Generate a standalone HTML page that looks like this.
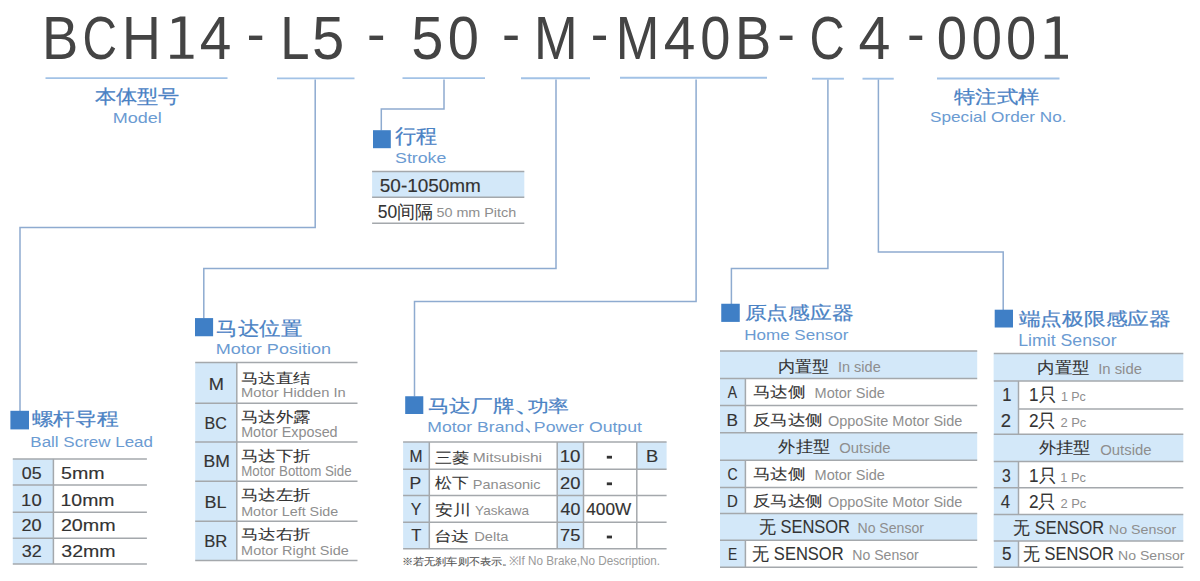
<!DOCTYPE html>
<html><head><meta charset="utf-8"><title>BCH14</title>
<style>html,body{margin:0;padding:0;background:#fff;width:1200px;height:581px;overflow:hidden}</style>
</head><body>
<svg width="1200" height="581" viewBox="0 0 1200 581" style="display:block;font-family:'Liberation Sans',sans-serif">
<rect width="1200" height="581" fill="#ffffff"/>
<rect x="249.00" y="35.60" width="13.25" height="4.40" fill="#444444"/>
<rect x="369.40" y="35.60" width="13.70" height="4.40" fill="#444444"/>
<rect x="504.40" y="35.60" width="13.35" height="4.40" fill="#444444"/>
<rect x="593.10" y="35.60" width="12.90" height="4.40" fill="#444444"/>
<rect x="779.75" y="35.60" width="12.75" height="4.40" fill="#444444"/>
<rect x="909.40" y="35.60" width="12.85" height="4.40" fill="#444444"/>
<path d="M180.20,16.5 H185.40 V54.8 H193.50 V58.8 H170.20 V54.8 H180.20 V21.6 L172.10,23.4 V19.6 Z" fill="#444444"/>
<path d="M1054.70,16.5 H1059.90 V54.8 H1068.00 V58.8 H1044.70 V54.8 H1054.70 V21.6 L1046.60,23.4 V19.6 Z" fill="#444444"/>
<line x1="45.5" y1="78.1" x2="227.5" y2="78.1" stroke="#a2c2e6" stroke-width="1.9"/>
<line x1="277" y1="78.4" x2="354.5" y2="78.4" stroke="#a2c2e6" stroke-width="1.9"/>
<line x1="402.5" y1="78.1" x2="485" y2="78.1" stroke="#a2c2e6" stroke-width="1.9"/>
<line x1="521" y1="78.3" x2="590" y2="78.3" stroke="#a2c2e6" stroke-width="1.9"/>
<line x1="620" y1="77.7" x2="767" y2="77.7" stroke="#a2c2e6" stroke-width="1.9"/>
<line x1="812" y1="78.7" x2="843.9" y2="78.7" stroke="#a2c2e6" stroke-width="1.9"/>
<line x1="862.5" y1="78.7" x2="893.75" y2="78.7" stroke="#a2c2e6" stroke-width="1.9"/>
<line x1="937" y1="78.5" x2="1059.5" y2="78.5" stroke="#a2c2e6" stroke-width="1.9"/>
<path d="M315.2,79.6 V227.4 H20 V411" fill="none" stroke="#8eabd0" stroke-width="1.5"/>
<path d="M444,79.6 V109.1 H381.3 V130.5" fill="none" stroke="#8eabd0" stroke-width="1.5"/>
<path d="M556,79.6 V268.5 H203.8 V318.5" fill="none" stroke="#8eabd0" stroke-width="1.5"/>
<path d="M696.1,79.6 V301.6 H414.5 V396.5" fill="none" stroke="#8eabd0" stroke-width="1.5"/>
<path d="M827.9,79.6 V268.4 H731.4 V304" fill="none" stroke="#8eabd0" stroke-width="1.5"/>
<path d="M878.4,79.6 V252.1 H1003.2 V310" fill="none" stroke="#8eabd0" stroke-width="1.5"/>
<line x1="526.4" y1="429.1" x2="529.3" y2="431.9" stroke="#6b9bd2" stroke-width="1.5" stroke-linecap="round"/>
<rect x="373.00" y="130.20" width="17.80" height="18.00" fill="#3f7fc6"/>
<rect x="10.40" y="410.80" width="18.60" height="18.60" fill="#3f7fc6"/>
<rect x="195.00" y="318.10" width="18.10" height="18.15" fill="#3f7fc6"/>
<rect x="405.20" y="396.25" width="18.10" height="17.75" fill="#3f7fc6"/>
<rect x="721.25" y="303.75" width="18.50" height="18.15" fill="#3f7fc6"/>
<rect x="994.70" y="309.70" width="18.30" height="17.80" fill="#3f7fc6"/>
<rect x="372.10" y="171.40" width="152.20" height="25.80" fill="#d3e8f9"/>
<line x1="372.1" y1="171.4" x2="524.3" y2="171.4" stroke="#a4a8ac" stroke-width="1.5"/>
<line x1="372.1" y1="197.2" x2="524.3" y2="197.2" stroke="#a4a8ac" stroke-width="1.5"/>
<line x1="372.1" y1="223.3" x2="524.3" y2="223.3" stroke="#a4a8ac" stroke-width="1.5"/>
<rect x="12.80" y="458.90" width="40.60" height="105.10" fill="#d3e8f9"/>
<line x1="12.8" y1="458.9" x2="146.9" y2="458.9" stroke="#a4a8ac" stroke-width="1.5"/>
<line x1="12.8" y1="485.1" x2="146.9" y2="485.1" stroke="#a4a8ac" stroke-width="1.5"/>
<line x1="12.8" y1="512.2" x2="146.9" y2="512.2" stroke="#a4a8ac" stroke-width="1.5"/>
<line x1="12.8" y1="538.2" x2="146.9" y2="538.2" stroke="#a4a8ac" stroke-width="1.5"/>
<line x1="12.8" y1="564" x2="146.9" y2="564" stroke="#a4a8ac" stroke-width="1.5"/>
<line x1="53.4" y1="458.9" x2="53.4" y2="564" stroke="#a4a8ac" stroke-width="1.5"/>
<rect x="195.20" y="362.60" width="41.40" height="197.90" fill="#d3e8f9"/>
<line x1="195.2" y1="362.6" x2="357.5" y2="362.6" stroke="#a4a8ac" stroke-width="1.5"/>
<line x1="195.2" y1="403.2" x2="357.5" y2="403.2" stroke="#a4a8ac" stroke-width="1.5"/>
<line x1="195.2" y1="442.1" x2="357.5" y2="442.1" stroke="#a4a8ac" stroke-width="1.5"/>
<line x1="195.2" y1="481.2" x2="357.5" y2="481.2" stroke="#a4a8ac" stroke-width="1.5"/>
<line x1="195.2" y1="521.3" x2="357.5" y2="521.3" stroke="#a4a8ac" stroke-width="1.5"/>
<line x1="195.2" y1="560.6" x2="357.5" y2="560.6" stroke="#a4a8ac" stroke-width="1.5"/>
<line x1="236.8" y1="362.6" x2="236.8" y2="560.6" stroke="#a4a8ac" stroke-width="1.5"/>
<rect x="403.10" y="442.00" width="26.20" height="106.70" fill="#d3e8f9"/>
<rect x="557.20" y="442.00" width="26.30" height="106.70" fill="#d3e8f9"/>
<rect x="636.80" y="442.00" width="29.80" height="27.30" fill="#d3e8f9"/>
<line x1="403.1" y1="442" x2="666.6" y2="442" stroke="#a4a8ac" stroke-width="1.5"/>
<line x1="403.1" y1="469.3" x2="666.6" y2="469.3" stroke="#a4a8ac" stroke-width="1.5"/>
<line x1="403.1" y1="495.6" x2="666.6" y2="495.6" stroke="#a4a8ac" stroke-width="1.5"/>
<line x1="403.1" y1="522.2" x2="666.6" y2="522.2" stroke="#a4a8ac" stroke-width="1.5"/>
<line x1="403.1" y1="548.7" x2="666.6" y2="548.7" stroke="#a4a8ac" stroke-width="1.5"/>
<line x1="429.3" y1="442" x2="429.3" y2="548.7" stroke="#a4a8ac" stroke-width="1.5"/>
<line x1="557.2" y1="442" x2="557.2" y2="548.7" stroke="#a4a8ac" stroke-width="1.5"/>
<line x1="583.5" y1="442" x2="583.5" y2="548.7" stroke="#a4a8ac" stroke-width="1.5"/>
<line x1="636.8" y1="442" x2="636.8" y2="548.7" stroke="#a4a8ac" stroke-width="1.5"/>
<rect x="606.80" y="455.80" width="5.20" height="2.80" fill="#333333"/>
<rect x="606.80" y="482.40" width="5.20" height="2.80" fill="#333333"/>
<rect x="606.80" y="535.60" width="5.20" height="2.80" fill="#333333"/>
<rect x="720.00" y="350.90" width="25.40" height="216.30" fill="#d3e8f9"/>
<rect x="720.00" y="350.90" width="257.20" height="27.60" fill="#d3e8f9"/>
<line x1="745.4" y1="378.5" x2="745.4" y2="405.4" stroke="#a4a8ac" stroke-width="1.5"/>
<line x1="745.4" y1="405.4" x2="745.4" y2="432.8" stroke="#a4a8ac" stroke-width="1.5"/>
<rect x="720.00" y="432.80" width="257.20" height="27.50" fill="#d3e8f9"/>
<line x1="745.4" y1="460.3" x2="745.4" y2="487.5" stroke="#a4a8ac" stroke-width="1.5"/>
<line x1="745.4" y1="487.5" x2="745.4" y2="513.4" stroke="#a4a8ac" stroke-width="1.5"/>
<rect x="720.00" y="513.40" width="257.20" height="26.90" fill="#d3e8f9"/>
<line x1="745.4" y1="540.3" x2="745.4" y2="567.2" stroke="#a4a8ac" stroke-width="1.5"/>
<line x1="720" y1="350.9" x2="977.2" y2="350.9" stroke="#a4a8ac" stroke-width="1.5"/>
<line x1="720" y1="378.5" x2="977.2" y2="378.5" stroke="#a4a8ac" stroke-width="1.5"/>
<line x1="720" y1="405.4" x2="977.2" y2="405.4" stroke="#a4a8ac" stroke-width="1.5"/>
<line x1="720" y1="432.8" x2="977.2" y2="432.8" stroke="#a4a8ac" stroke-width="1.5"/>
<line x1="720" y1="460.3" x2="977.2" y2="460.3" stroke="#a4a8ac" stroke-width="1.5"/>
<line x1="720" y1="487.5" x2="977.2" y2="487.5" stroke="#a4a8ac" stroke-width="1.5"/>
<line x1="720" y1="513.4" x2="977.2" y2="513.4" stroke="#a4a8ac" stroke-width="1.5"/>
<line x1="720" y1="540.3" x2="977.2" y2="540.3" stroke="#a4a8ac" stroke-width="1.5"/>
<line x1="720" y1="567.2" x2="977.2" y2="567.2" stroke="#a4a8ac" stroke-width="1.5"/>
<rect x="993.80" y="353.50" width="24.70" height="213.80" fill="#d3e8f9"/>
<rect x="993.80" y="353.50" width="189.50" height="27.40" fill="#d3e8f9"/>
<line x1="1018.5" y1="380.9" x2="1018.5" y2="408.9" stroke="#a4a8ac" stroke-width="1.5"/>
<line x1="1018.5" y1="408.9" x2="1018.5" y2="434.2" stroke="#a4a8ac" stroke-width="1.5"/>
<rect x="993.80" y="434.20" width="189.50" height="27.20" fill="#d3e8f9"/>
<line x1="1018.5" y1="461.4" x2="1018.5" y2="487.8" stroke="#a4a8ac" stroke-width="1.5"/>
<line x1="1018.5" y1="487.8" x2="1018.5" y2="514.6" stroke="#a4a8ac" stroke-width="1.5"/>
<rect x="993.80" y="514.60" width="189.50" height="26.40" fill="#d3e8f9"/>
<line x1="1018.5" y1="541" x2="1018.5" y2="567.3" stroke="#a4a8ac" stroke-width="1.5"/>
<line x1="993.8" y1="353.5" x2="1183.3" y2="353.5" stroke="#a4a8ac" stroke-width="1.5"/>
<line x1="993.8" y1="380.9" x2="1183.3" y2="380.9" stroke="#a4a8ac" stroke-width="1.5"/>
<line x1="1018.5" y1="408.9" x2="1183.3" y2="408.9" stroke="#a4a8ac" stroke-width="1.5"/>
<line x1="993.8" y1="434.2" x2="1183.3" y2="434.2" stroke="#a4a8ac" stroke-width="1.5"/>
<line x1="993.8" y1="461.4" x2="1183.3" y2="461.4" stroke="#a4a8ac" stroke-width="1.5"/>
<line x1="993.8" y1="487.8" x2="1183.3" y2="487.8" stroke="#a4a8ac" stroke-width="1.5"/>
<line x1="993.8" y1="514.6" x2="1183.3" y2="514.6" stroke="#a4a8ac" stroke-width="1.5"/>
<line x1="993.8" y1="541" x2="1183.3" y2="541" stroke="#a4a8ac" stroke-width="1.5"/>
<line x1="993.8" y1="567.3" x2="1183.3" y2="567.3" stroke="#a4a8ac" stroke-width="1.5"/>
<text x="41.90" y="58.70" font-size="60.72" fill="#444444" textLength="36.25" lengthAdjust="spacingAndGlyphs">B</text>
<text x="82.61" y="58.70" font-size="60.72" fill="#444444" textLength="34.53" lengthAdjust="spacingAndGlyphs">C</text>
<text x="121.95" y="58.70" font-size="60.72" fill="#444444" textLength="38.83" lengthAdjust="spacingAndGlyphs">H</text>
<text x="199.86" y="58.70" font-size="60.72" fill="#444444" textLength="31.62" lengthAdjust="spacingAndGlyphs">4</text>
<text x="280.19" y="58.70" font-size="60.72" fill="#444444" textLength="29.29" lengthAdjust="spacingAndGlyphs">L</text>
<text x="312.08" y="58.70" font-size="60.72" fill="#444444" textLength="32.27" lengthAdjust="spacingAndGlyphs">5</text>
<text x="411.19" y="58.70" font-size="60.72" fill="#444444" textLength="32.15" lengthAdjust="spacingAndGlyphs">5</text>
<text x="447.72" y="58.70" font-size="60.72" fill="#444444" textLength="31.21" lengthAdjust="spacingAndGlyphs">0</text>
<text x="533.91" y="58.70" font-size="60.72" fill="#444444" textLength="43.67" lengthAdjust="spacingAndGlyphs">M</text>
<text x="615.81" y="58.70" font-size="60.72" fill="#444444" textLength="43.61" lengthAdjust="spacingAndGlyphs">M</text>
<text x="663.86" y="58.70" font-size="60.72" fill="#444444" textLength="31.62" lengthAdjust="spacingAndGlyphs">4</text>
<text x="700.27" y="58.70" font-size="60.72" fill="#444444" textLength="30.19" lengthAdjust="spacingAndGlyphs">0</text>
<text x="735.05" y="58.70" font-size="60.72" fill="#444444" textLength="36.25" lengthAdjust="spacingAndGlyphs">B</text>
<text x="809.46" y="58.70" font-size="60.72" fill="#444444" textLength="35.21" lengthAdjust="spacingAndGlyphs">C</text>
<text x="858.60" y="58.70" font-size="60.72" fill="#444444" textLength="31.90" lengthAdjust="spacingAndGlyphs">4</text>
<text x="936.86" y="58.70" font-size="60.72" fill="#444444" textLength="30.36" lengthAdjust="spacingAndGlyphs">0</text>
<text x="971.45" y="58.70" font-size="60.72" fill="#444444" textLength="30.53" lengthAdjust="spacingAndGlyphs">0</text>
<text x="1006.12" y="58.70" font-size="60.72" fill="#444444" textLength="30.25" lengthAdjust="spacingAndGlyphs">0</text>
<text x="94.59" y="103.28" font-size="19.07" fill="#4a82c4" stroke="#4a82c4" stroke-width="0.22" textLength="85.01" lengthAdjust="spacingAndGlyphs">本体型号</text>
<text x="112.76" y="122.75" font-size="15.29" fill="#6b9bd2" textLength="49.06" lengthAdjust="spacingAndGlyphs">Model</text>
<text x="954.00" y="103.35" font-size="17.88" fill="#4a82c4" stroke="#4a82c4" stroke-width="0.22" textLength="85.34" lengthAdjust="spacingAndGlyphs">特注式样</text>
<text x="930.01" y="122.00" font-size="14.78" fill="#6b9bd2" textLength="136.50" lengthAdjust="spacingAndGlyphs">Special Order No.</text>
<text x="395.00" y="142.85" font-size="20.00" fill="#4a82c4" stroke="#4a82c4" stroke-width="0.22" textLength="42.03" lengthAdjust="spacingAndGlyphs">行程</text>
<text x="395.09" y="162.60" font-size="15.22" fill="#6b9bd2" textLength="51.25" lengthAdjust="spacingAndGlyphs">Stroke</text>
<text x="379.84" y="192.00" font-size="17.83" fill="#333333" stroke="#333333" stroke-width="0.15" textLength="101.05" lengthAdjust="spacingAndGlyphs">50-1050mm</text>
<text x="377.79" y="217.50" font-size="17.50" fill="#333333" stroke="#333333" stroke-width="0.08" textLength="55.40" lengthAdjust="spacingAndGlyphs">50间隔</text>
<text x="436.43" y="217.00" font-size="13.62" fill="#8e8e8e" textLength="79.78" lengthAdjust="spacingAndGlyphs">50 mm Pitch</text>
<text x="31.78" y="425.39" font-size="18.37" fill="#4a82c4" stroke="#4a82c4" stroke-width="0.22" textLength="86.87" lengthAdjust="spacingAndGlyphs">螺杆导程</text>
<text x="30.34" y="447.00" font-size="15.07" fill="#6b9bd2" textLength="122.61" lengthAdjust="spacingAndGlyphs">Ball Screw Lead</text>
<text x="21.87" y="478.90" font-size="17.39" fill="#333333" stroke="#333333" stroke-width="0.15" textLength="19.78" lengthAdjust="spacingAndGlyphs">05</text>
<text x="61.11" y="478.90" font-size="17.39" fill="#333333" stroke="#333333" stroke-width="0.15" textLength="43.62" lengthAdjust="spacingAndGlyphs">5mm</text>
<text x="21.11" y="506.10" font-size="17.39" fill="#333333" stroke="#333333" stroke-width="0.15" textLength="20.56" lengthAdjust="spacingAndGlyphs">10</text>
<text x="60.54" y="506.10" font-size="17.39" fill="#333333" stroke="#333333" stroke-width="0.15" textLength="53.98" lengthAdjust="spacingAndGlyphs">10mm</text>
<text x="21.49" y="531.20" font-size="17.39" fill="#333333" stroke="#333333" stroke-width="0.15" textLength="20.16" lengthAdjust="spacingAndGlyphs">20</text>
<text x="60.92" y="531.20" font-size="17.39" fill="#333333" stroke="#333333" stroke-width="0.15" textLength="54.73" lengthAdjust="spacingAndGlyphs">20mm</text>
<text x="21.86" y="557.30" font-size="17.39" fill="#333333" stroke="#333333" stroke-width="0.15" textLength="19.97" lengthAdjust="spacingAndGlyphs">32</text>
<text x="61.31" y="557.30" font-size="17.39" fill="#333333" stroke="#333333" stroke-width="0.15" textLength="54.32" lengthAdjust="spacingAndGlyphs">32mm</text>
<text x="216.39" y="334.51" font-size="18.51" fill="#4a82c4" stroke="#4a82c4" stroke-width="0.22" textLength="85.71" lengthAdjust="spacingAndGlyphs">马达位置</text>
<text x="215.81" y="354.40" font-size="15.36" fill="#6b9bd2" textLength="115.20" lengthAdjust="spacingAndGlyphs">Motor Position</text>
<text x="208.84" y="390.00" font-size="17.25" fill="#333333" stroke="#333333" stroke-width="0.15" textLength="15.19" lengthAdjust="spacingAndGlyphs">M</text>
<text x="241.00" y="382.65" font-size="13.85" fill="#333333" stroke="#333333" stroke-width="0.08" textLength="69.72" lengthAdjust="spacingAndGlyphs">马达直结</text>
<text x="241.12" y="396.60" font-size="12.32" fill="#8e8e8e" textLength="104.60" lengthAdjust="spacingAndGlyphs">Motor Hidden In</text>
<text x="204.62" y="428.50" font-size="17.25" fill="#333333" stroke="#333333" stroke-width="0.15" textLength="22.30" lengthAdjust="spacingAndGlyphs">BC</text>
<text x="241.00" y="422.30" font-size="15.00" fill="#333333" stroke="#333333" stroke-width="0.08" textLength="69.90" lengthAdjust="spacingAndGlyphs">马达外露</text>
<text x="241.15" y="436.80" font-size="14.35" fill="#8e8e8e" textLength="96.45" lengthAdjust="spacingAndGlyphs">Motor Exposed</text>
<text x="203.49" y="467.30" font-size="17.25" fill="#333333" stroke="#333333" stroke-width="0.15" textLength="26.39" lengthAdjust="spacingAndGlyphs">BM</text>
<text x="241.00" y="461.26" font-size="14.59" fill="#333333" stroke="#333333" stroke-width="0.08" textLength="69.72" lengthAdjust="spacingAndGlyphs">马达下折</text>
<text x="241.23" y="476.30" font-size="13.77" fill="#8e8e8e" textLength="110.45" lengthAdjust="spacingAndGlyphs">Motor Bottom Side</text>
<text x="204.46" y="507.50" font-size="17.25" fill="#333333" stroke="#333333" stroke-width="0.15" textLength="22.01" lengthAdjust="spacingAndGlyphs">BL</text>
<text x="241.00" y="500.02" font-size="14.90" fill="#333333" stroke="#333333" stroke-width="0.08" textLength="69.72" lengthAdjust="spacingAndGlyphs">马达左折</text>
<text x="241.15" y="515.80" font-size="12.61" fill="#8e8e8e" textLength="97.16" lengthAdjust="spacingAndGlyphs">Motor Left Side</text>
<text x="204.17" y="546.50" font-size="17.25" fill="#333333" stroke="#333333" stroke-width="0.15" textLength="23.13" lengthAdjust="spacingAndGlyphs">BR</text>
<text x="241.00" y="538.92" font-size="14.18" fill="#333333" stroke="#333333" stroke-width="0.08" textLength="69.72" lengthAdjust="spacingAndGlyphs">马达右折</text>
<text x="241.14" y="554.70" font-size="12.90" fill="#8e8e8e" textLength="107.68" lengthAdjust="spacingAndGlyphs">Motor Right Side</text>
<text x="427.89" y="412.15" font-size="17.71" fill="#4a82c4" stroke="#4a82c4" stroke-width="0.22" textLength="86.28" lengthAdjust="spacingAndGlyphs">马达厂牌</text>
<text x="512.93" y="412.30" font-size="18.50" fill="#4a82c4" stroke="#4a82c4" stroke-width="0.22" textLength="31.90" lengthAdjust="spacingAndGlyphs">、</text>
<text x="527.69" y="412.19" font-size="17.35" fill="#4a82c4" stroke="#4a82c4" stroke-width="0.22" textLength="41.44" lengthAdjust="spacingAndGlyphs">功率</text>
<text x="427.34" y="431.70" font-size="14.71" fill="#6b9bd2" textLength="96.64" lengthAdjust="spacingAndGlyphs">Motor Brand</text>
<text x="533.89" y="431.70" font-size="14.71" fill="#6b9bd2" textLength="108.08" lengthAdjust="spacingAndGlyphs">Power Output</text>
<text x="409.45" y="462.30" font-size="16.96" fill="#333333" stroke="#333333" stroke-width="0.15" textLength="12.99" lengthAdjust="spacingAndGlyphs">M</text>
<text x="434.79" y="462.69" font-size="15.47" fill="#333333" stroke="#333333" stroke-width="0.08" textLength="34.20" lengthAdjust="spacingAndGlyphs">三菱</text>
<text x="472.75" y="462.30" font-size="13.19" fill="#8e8e8e" textLength="69.32" lengthAdjust="spacingAndGlyphs">Mitsubishi</text>
<text x="559.69" y="462.30" font-size="16.96" fill="#333333" stroke="#333333" stroke-width="0.15" textLength="20.78" lengthAdjust="spacingAndGlyphs">10</text>
<text x="409.59" y="489.10" font-size="16.96" fill="#333333" stroke="#333333" stroke-width="0.15" textLength="11.73" lengthAdjust="spacingAndGlyphs">P</text>
<text x="435.30" y="488.14" font-size="15.47" fill="#333333" stroke="#333333" stroke-width="0.08" textLength="33.67" lengthAdjust="spacingAndGlyphs">松下</text>
<text x="472.84" y="489.10" font-size="13.19" fill="#8e8e8e" textLength="67.75" lengthAdjust="spacingAndGlyphs">Panasonic</text>
<text x="560.08" y="489.10" font-size="16.96" fill="#333333" stroke="#333333" stroke-width="0.15" textLength="20.38" lengthAdjust="spacingAndGlyphs">20</text>
<text x="410.68" y="515.30" font-size="16.96" fill="#333333" stroke="#333333" stroke-width="0.15" textLength="10.59" lengthAdjust="spacingAndGlyphs">Y</text>
<text x="434.76" y="514.51" font-size="14.55" fill="#333333" stroke="#333333" stroke-width="0.08" textLength="35.87" lengthAdjust="spacingAndGlyphs">安川</text>
<text x="475.13" y="515.30" font-size="13.19" fill="#8e8e8e" textLength="54.02" lengthAdjust="spacingAndGlyphs">Yaskawa</text>
<text x="560.64" y="515.30" font-size="16.96" fill="#333333" stroke="#333333" stroke-width="0.15" textLength="19.80" lengthAdjust="spacingAndGlyphs">40</text>
<text x="586.26" y="515.30" font-size="16.96" fill="#333333" stroke="#333333" stroke-width="0.15" textLength="44.94" lengthAdjust="spacingAndGlyphs">400W</text>
<text x="411.17" y="541.30" font-size="16.96" fill="#333333" stroke="#333333" stroke-width="0.15" textLength="10.18" lengthAdjust="spacingAndGlyphs">T</text>
<text x="433.70" y="540.69" font-size="14.27" fill="#333333" stroke="#333333" stroke-width="0.08" textLength="35.48" lengthAdjust="spacingAndGlyphs">台达</text>
<text x="474.22" y="541.30" font-size="13.19" fill="#8e8e8e" textLength="34.32" lengthAdjust="spacingAndGlyphs">Delta</text>
<text x="560.08" y="541.30" font-size="16.96" fill="#333333" stroke="#333333" stroke-width="0.15" textLength="20.38" lengthAdjust="spacingAndGlyphs">75</text>
<text x="645.93" y="462.30" font-size="16.96" fill="#333333" stroke="#333333" stroke-width="0.15" textLength="12.23" lengthAdjust="spacingAndGlyphs">B</text>
<text x="401.84" y="564.79" font-size="10.40" fill="#555555" stroke="#555555" stroke-width="0.12" textLength="111.53" lengthAdjust="spacingAndGlyphs">※若无刹车则不表示。</text>
<text x="508.62" y="565.30" font-size="12.17" fill="#9a9a9a" textLength="151.41" lengthAdjust="spacingAndGlyphs">※If No Brake,No Description.</text>
<text x="744.56" y="318.73" font-size="17.75" fill="#4a82c4" stroke="#4a82c4" stroke-width="0.22" textLength="108.81" lengthAdjust="spacingAndGlyphs">原点感应器</text>
<text x="744.24" y="339.75" font-size="15.51" fill="#6b9bd2" textLength="104.08" lengthAdjust="spacingAndGlyphs">Home Sensor</text>
<text x="777.54" y="371.62" font-size="15.63" fill="#333333" stroke="#333333" stroke-width="0.08" textLength="51.15" lengthAdjust="spacingAndGlyphs">内置型</text>
<text x="837.99" y="372.20" font-size="14.06" fill="#8e8e8e" textLength="42.73" lengthAdjust="spacingAndGlyphs">In side</text>
<text x="727.80" y="398.10" font-size="17.39" fill="#333333" stroke="#333333" stroke-width="0.15" textLength="9.26" lengthAdjust="spacingAndGlyphs">A</text>
<text x="752.90" y="397.39" font-size="15.46" fill="#333333" stroke="#333333" stroke-width="0.08" textLength="52.81" lengthAdjust="spacingAndGlyphs">马达侧</text>
<text x="814.54" y="398.10" font-size="14.06" fill="#8e8e8e" textLength="70.29" lengthAdjust="spacingAndGlyphs">Motor Side</text>
<text x="726.42" y="425.80" font-size="17.39" fill="#333333" stroke="#333333" stroke-width="0.15" textLength="11.49" lengthAdjust="spacingAndGlyphs">B</text>
<text x="752.75" y="425.09" font-size="15.46" fill="#333333" stroke="#333333" stroke-width="0.08" textLength="69.95" lengthAdjust="spacingAndGlyphs">反马达侧</text>
<text x="827.92" y="425.80" font-size="14.06" fill="#8e8e8e" textLength="134.50" lengthAdjust="spacingAndGlyphs">OppoSite Motor Side</text>
<text x="778.40" y="452.11" font-size="15.63" fill="#333333" stroke="#333333" stroke-width="0.08" textLength="51.39" lengthAdjust="spacingAndGlyphs">外挂型</text>
<text x="839.31" y="453.00" font-size="14.06" fill="#8e8e8e" textLength="51.23" lengthAdjust="spacingAndGlyphs">Outside</text>
<text x="727.40" y="479.60" font-size="17.39" fill="#333333" stroke="#333333" stroke-width="0.15" textLength="10.16" lengthAdjust="spacingAndGlyphs">C</text>
<text x="752.90" y="478.89" font-size="15.46" fill="#333333" stroke="#333333" stroke-width="0.08" textLength="52.81" lengthAdjust="spacingAndGlyphs">马达侧</text>
<text x="814.54" y="479.60" font-size="14.06" fill="#8e8e8e" textLength="70.29" lengthAdjust="spacingAndGlyphs">Motor Side</text>
<text x="727.10" y="507.10" font-size="17.39" fill="#333333" stroke="#333333" stroke-width="0.15" textLength="10.83" lengthAdjust="spacingAndGlyphs">D</text>
<text x="752.75" y="506.39" font-size="15.46" fill="#333333" stroke="#333333" stroke-width="0.08" textLength="69.95" lengthAdjust="spacingAndGlyphs">反马达侧</text>
<text x="827.92" y="507.10" font-size="14.06" fill="#8e8e8e" textLength="134.50" lengthAdjust="spacingAndGlyphs">OppoSite Motor Side</text>
<text x="758.90" y="533.30" font-size="17.50" fill="#333333" stroke="#333333" stroke-width="0.08" textLength="91.10" lengthAdjust="spacingAndGlyphs">无 SENSOR</text>
<text x="857.47" y="533.30" font-size="14.06" fill="#8e8e8e" textLength="66.51" lengthAdjust="spacingAndGlyphs">No Sensor</text>
<text x="727.99" y="559.60" font-size="17.39" fill="#333333" stroke="#333333" stroke-width="0.15" textLength="9.22" lengthAdjust="spacingAndGlyphs">E</text>
<text x="752.30" y="559.60" font-size="17.50" fill="#333333" stroke="#333333" stroke-width="0.08" textLength="91.30" lengthAdjust="spacingAndGlyphs">无 SENSOR</text>
<text x="852.27" y="559.60" font-size="14.06" fill="#8e8e8e" textLength="66.51" lengthAdjust="spacingAndGlyphs">No Sensor</text>
<text x="1018.70" y="324.85" font-size="17.65" fill="#4a82c4" stroke="#4a82c4" stroke-width="0.22" textLength="152.17" lengthAdjust="spacingAndGlyphs">端点极限感应器</text>
<text x="1018.29" y="345.80" font-size="16.38" fill="#6b9bd2" textLength="98.24" lengthAdjust="spacingAndGlyphs">Limit Sensor</text>
<text x="1037.21" y="373.09" font-size="15.83" fill="#333333" stroke="#333333" stroke-width="0.08" textLength="52.19" lengthAdjust="spacingAndGlyphs">内置型</text>
<text x="1098.16" y="374.30" font-size="13.91" fill="#8e8e8e" textLength="43.77" lengthAdjust="spacingAndGlyphs">In side</text>
<text x="1002.24" y="400.80" font-size="17.68" fill="#333333" stroke="#333333" stroke-width="0.15" textLength="9.23" lengthAdjust="spacingAndGlyphs">1</text>
<text x="1029.08" y="400.80" font-size="17.50" fill="#333333" stroke="#333333" stroke-width="0.08" textLength="27.03" lengthAdjust="spacingAndGlyphs">1只</text>
<text x="1060.93" y="400.80" font-size="12.46" fill="#8e8e8e" textLength="24.92" lengthAdjust="spacingAndGlyphs">1 Pc</text>
<text x="1000.68" y="426.90" font-size="17.68" fill="#333333" stroke="#333333" stroke-width="0.15" textLength="10.28" lengthAdjust="spacingAndGlyphs">2</text>
<text x="1028.93" y="426.90" font-size="17.50" fill="#333333" stroke="#333333" stroke-width="0.08" textLength="27.20" lengthAdjust="spacingAndGlyphs">2只</text>
<text x="1060.45" y="426.90" font-size="12.46" fill="#8e8e8e" textLength="25.91" lengthAdjust="spacingAndGlyphs">2 Pc</text>
<text x="1038.60" y="453.48" font-size="15.83" fill="#333333" stroke="#333333" stroke-width="0.08" textLength="51.79" lengthAdjust="spacingAndGlyphs">外挂型</text>
<text x="1100.20" y="455.00" font-size="13.91" fill="#8e8e8e" textLength="51.33" lengthAdjust="spacingAndGlyphs">Outside</text>
<text x="1001.93" y="481.80" font-size="17.68" fill="#333333" stroke="#333333" stroke-width="0.15" textLength="8.74" lengthAdjust="spacingAndGlyphs">3</text>
<text x="1029.08" y="481.80" font-size="17.50" fill="#333333" stroke="#333333" stroke-width="0.08" textLength="27.03" lengthAdjust="spacingAndGlyphs">1只</text>
<text x="1060.20" y="481.80" font-size="12.46" fill="#8e8e8e" textLength="25.65" lengthAdjust="spacingAndGlyphs">1 Pc</text>
<text x="1000.86" y="507.80" font-size="17.68" fill="#333333" stroke="#333333" stroke-width="0.15" textLength="9.38" lengthAdjust="spacingAndGlyphs">4</text>
<text x="1028.93" y="507.80" font-size="17.50" fill="#333333" stroke="#333333" stroke-width="0.08" textLength="27.20" lengthAdjust="spacingAndGlyphs">2只</text>
<text x="1060.45" y="507.80" font-size="12.46" fill="#8e8e8e" textLength="25.91" lengthAdjust="spacingAndGlyphs">2 Pc</text>
<text x="1013.41" y="533.60" font-size="17.50" fill="#333333" stroke="#333333" stroke-width="0.08" textLength="90.59" lengthAdjust="spacingAndGlyphs">无 SENSOR</text>
<text x="1108.86" y="533.60" font-size="13.19" fill="#8e8e8e" textLength="67.33" lengthAdjust="spacingAndGlyphs">No Sensor</text>
<text x="1001.92" y="559.80" font-size="17.68" fill="#333333" stroke="#333333" stroke-width="0.15" textLength="9.50" lengthAdjust="spacingAndGlyphs">5</text>
<text x="1023.11" y="559.80" font-size="17.50" fill="#333333" stroke="#333333" stroke-width="0.08" textLength="90.69" lengthAdjust="spacingAndGlyphs">无 SENSOR</text>
<text x="1118.08" y="559.80" font-size="13.19" fill="#8e8e8e" textLength="66.41" lengthAdjust="spacingAndGlyphs">No Sensor</text>
</svg>
</body></html>
